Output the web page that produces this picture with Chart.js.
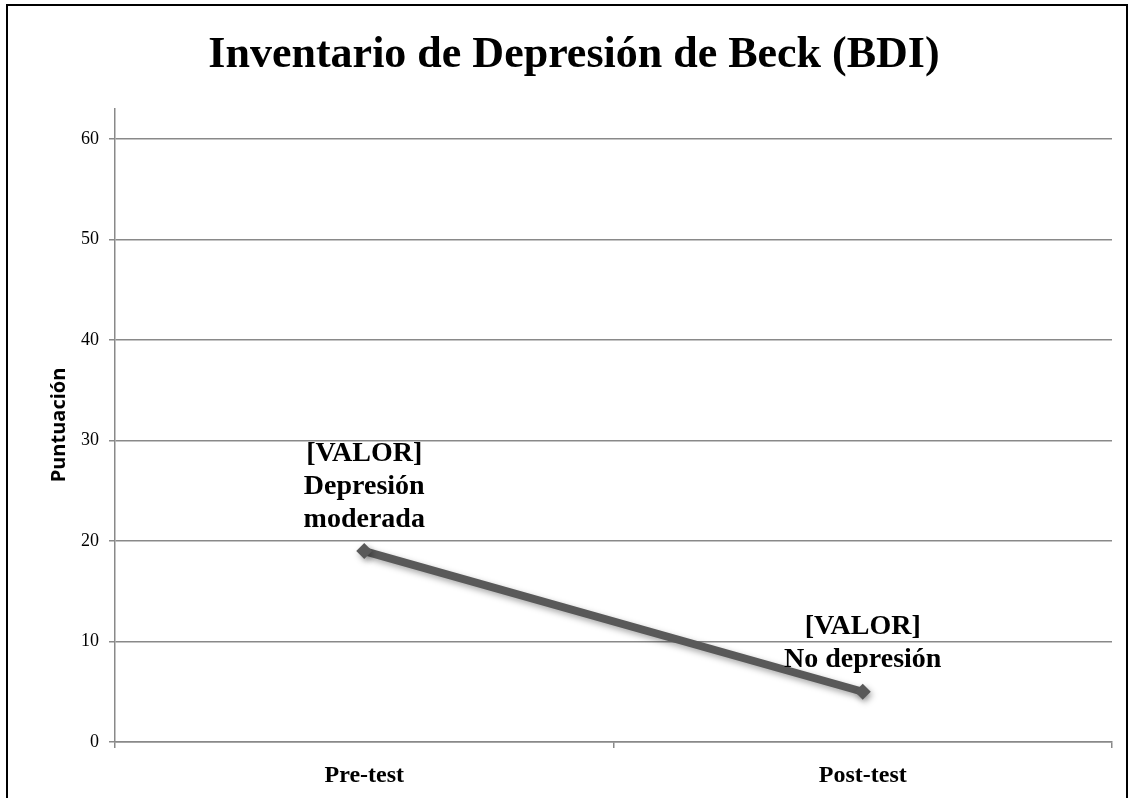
<!DOCTYPE html>
<html>
<head>
<meta charset="utf-8">
<script src="https://cdn.jsdelivr.net/npm/chart.js@4/dist/chart.umd.min.js"></script>
<style>
html,body{margin:0;padding:0;background:#fff;}
#wrap{position:relative;width:1135px;height:798px;}
</style>
</head>
<body>
<div id="wrap"><canvas id="c" width="1135" height="798"></canvas></div>
<script>
const categories = ["Pre-test", "Post-test"];
const scores = [19, 5];
const labelLines = [["[VALOR]", "Depresión", "moderada"], ["[VALOR]", "No depresión"]];
const yTicks = [0, 10, 20, 30, 40, 50, 60];
const titleText = "Inventario de Depresión de Beck (BDI)";
const yTitle = "Puntuación";

const SERIF = '"Liberation Serif", "Times New Roman", serif';

const decor = {
  id: 'decor',
  afterDraw(chart) {
    const ctx = chart.ctx;
    ctx.save();
    ctx.strokeStyle = '#000';
    ctx.lineWidth = 2;
    ctx.strokeRect(7, 5, 1120, 900);
    // title
    ctx.fillStyle = '#000';
    ctx.font = 'bold 44px ' + SERIF;
    ctx.textAlign = 'center';
    ctx.textBaseline = 'alphabetic';
    ctx.fillText(titleText, 574, 67);
    // y axis title
    ctx.translate(65, 425);
    ctx.rotate(-Math.PI / 2);
    ctx.font = 'bold 20px "Open Sans", sans-serif';
    ctx.fillText(yTitle, 0, 0);
    ctx.restore();
  }
};

const shadow = {
  id: 'shadow',
  beforeDatasetsDraw(chart) {
    const ctx = chart.ctx;
    ctx.save();
    ctx.shadowColor = 'rgba(0,0,0,0.35)';
    ctx.shadowBlur = 6;
    ctx.shadowOffsetX = 2;
    ctx.shadowOffsetY = 3;
  },
  afterDatasetsDraw(chart) {
    chart.ctx.restore();
  }
};

const dataLabels = {
  id: 'dataLabels',
  afterDatasetsDraw(chart) {
    const ctx = chart.ctx;
    const meta = chart.getDatasetMeta(0);
    ctx.save();
    ctx.font = 'bold 28px ' + SERIF;
    ctx.fillStyle = '#000';
    ctx.textAlign = 'center';
    ctx.textBaseline = 'middle';
    meta.data.forEach((pt, i) => {
      const lines = labelLines[i];
      const lh = 33;
      const n = lines.length;
      lines.forEach((t, j) => {
        ctx.fillText(t, pt.x, pt.y - 31.5 - (n - 1 - j) * lh);
      });
    });
    ctx.restore();
  }
};

new Chart(document.getElementById('c'), {
  type: 'line',
  data: {
    labels: categories,
    datasets: [{
      data: scores,
      borderColor: '#595959',
      backgroundColor: '#595959',
      borderWidth: 8,
      pointStyle: 'rectRot',
      pointRadius: 8,
      pointBorderWidth: 0,
      tension: 0,
      fill: false
    }]
  },
  options: {
    responsive: false,
    animation: false,
    devicePixelRatio: 1,
    layout: { padding: { left: 0, right: 23, top: 109, bottom: 0 } },
    plugins: {
      legend: { display: false },
      tooltip: { enabled: false },
      title: { display: false }
    },
    scales: {
      x: {
        type: 'category',
        offset: true,
        grid: { offset: true, drawOnChartArea: false, drawTicks: true, tickLength: 6, color: '#898989', lineWidth: 1.5 },
        border: { display: true, color: '#898989', width: 1.5 },
        ticks: { color: '#000', padding: 13, font: { family: SERIF, size: 24, weight: 'bold' } },
        afterFit(scale) { scale.height = 56; }
      },
      y: {
        min: 0,
        max: 63,
        afterBuildTicks(scale) { scale.ticks = yTicks.map(v => ({ value: v })); },
        grid: { color: '#898989', lineWidth: 1.5, tickLength: 6 },
        border: { display: true, color: '#898989', width: 1.5 },
        ticks: { color: '#000', padding: 10, font: { family: SERIF, size: 18 } },
        afterFit(scale) { scale.width = 115; }
      }
    }
  },
  plugins: [decor, shadow, dataLabels]
});
</script>
</body>
</html>
